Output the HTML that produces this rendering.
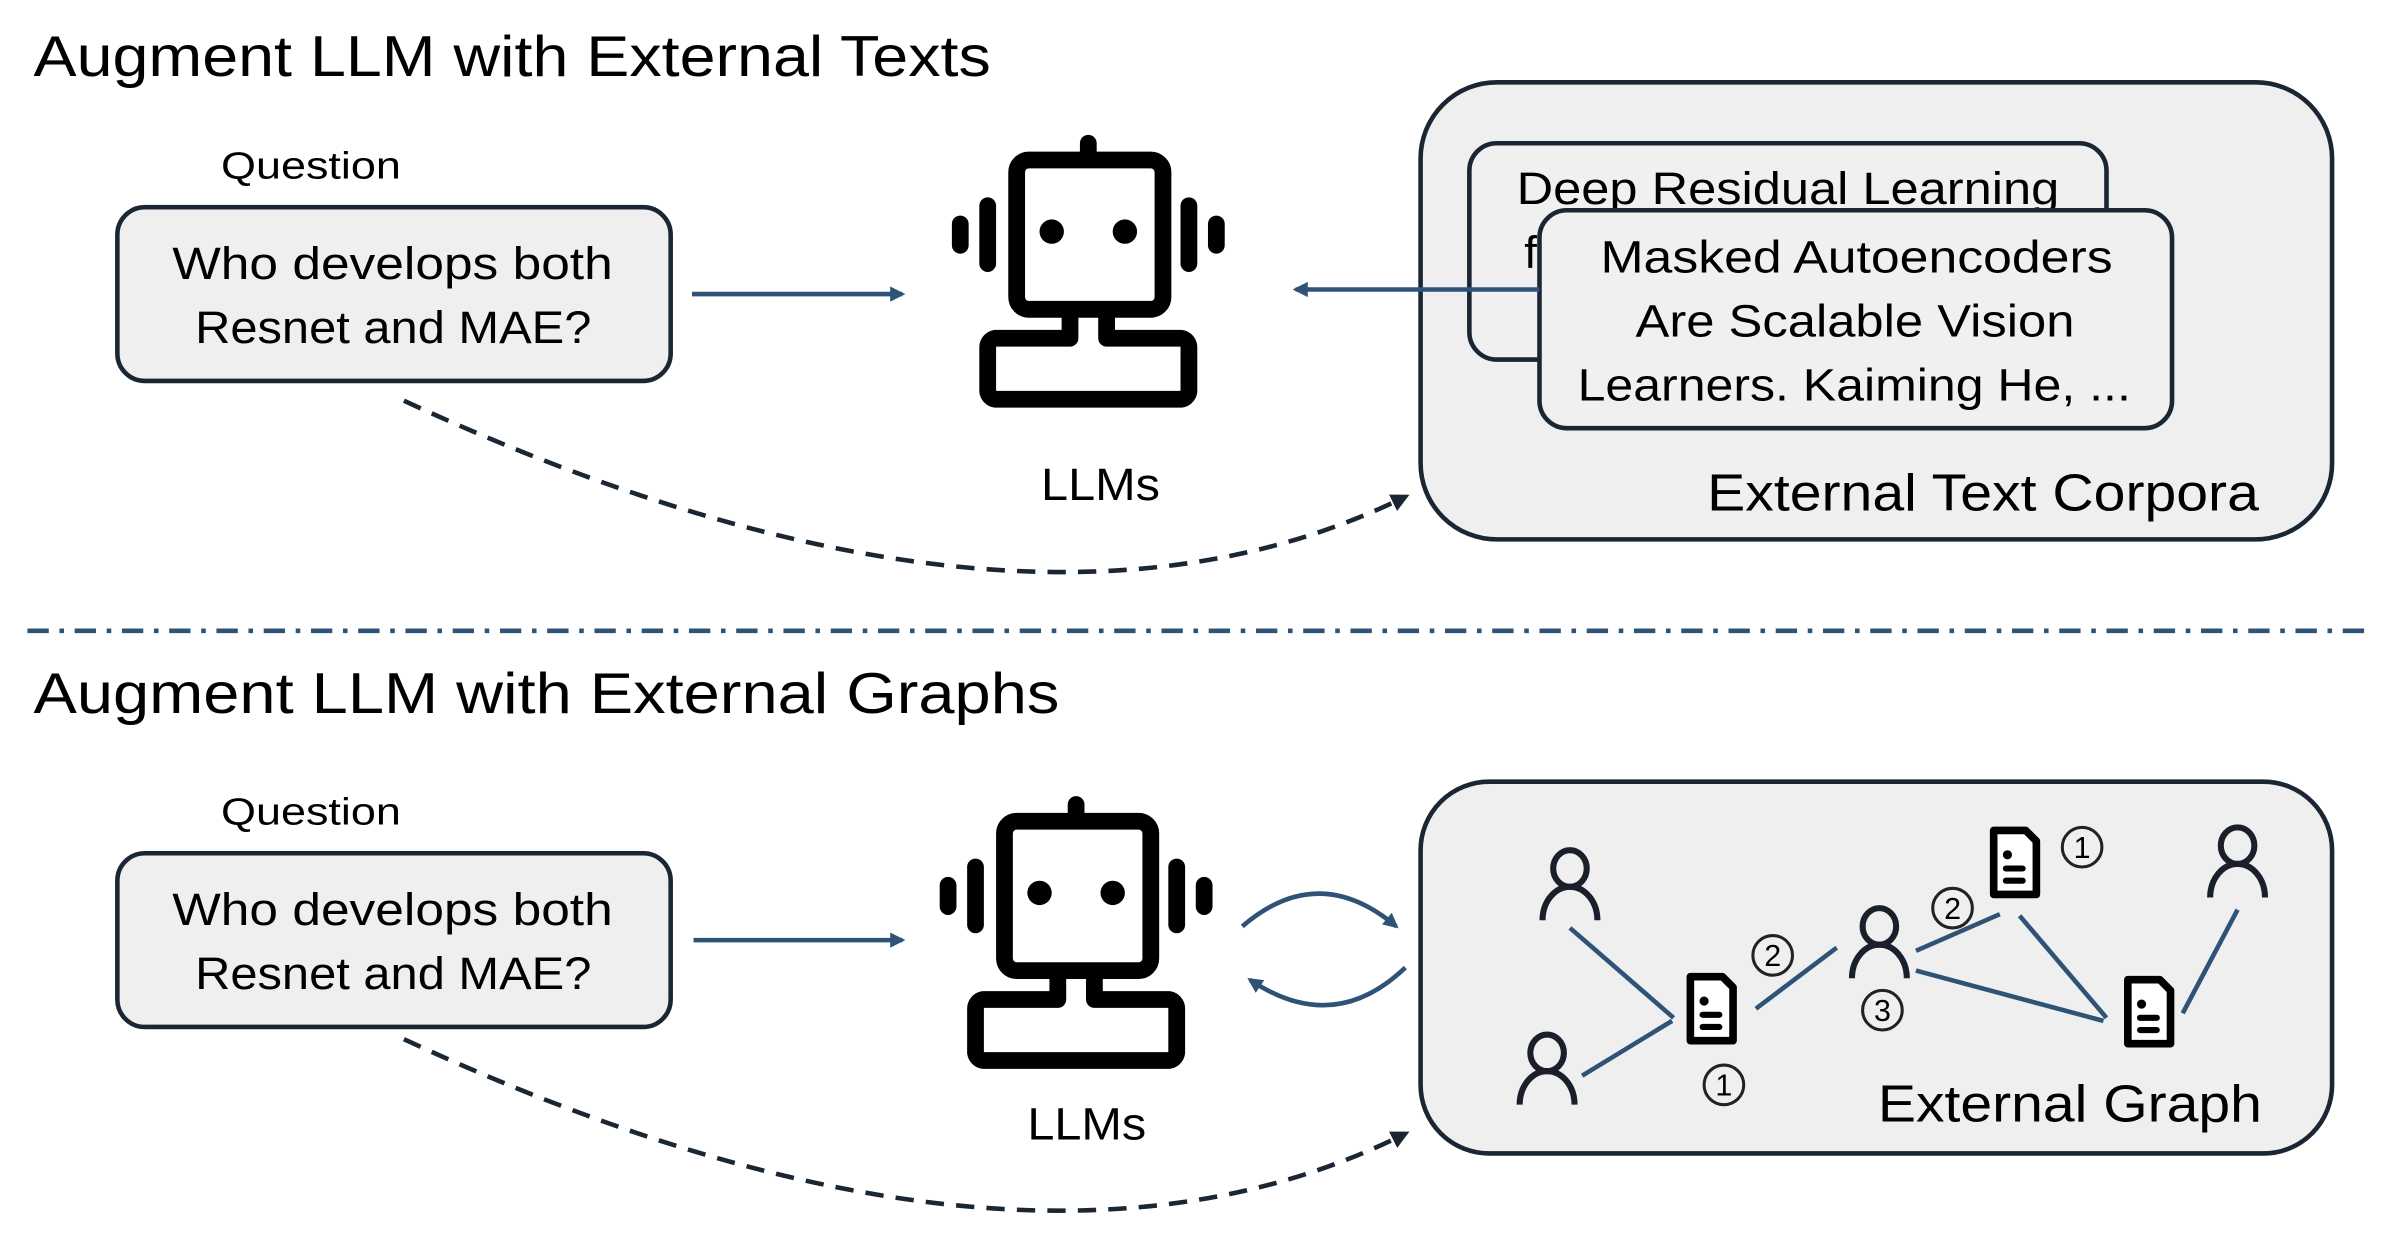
<!DOCTYPE html>
<html><head><meta charset="utf-8"><style>
html,body{margin:0;padding:0;background:#fff}
svg{display:block}
text{font-family:"Liberation Sans",sans-serif;fill:#000}
</style></head><body>
<svg width="2390" height="1254" viewBox="0 0 1568 823" preserveAspectRatio="none" xmlns="http://www.w3.org/2000/svg">
<defs>
<marker id="ah" markerWidth="10" markerHeight="10" refX="8" refY="5" orient="auto" markerUnits="userSpaceOnUse"><path d="M0,0 L10,5 L0,10 z" fill="#2e5377"/></marker>
<marker id="ahd" markerWidth="12" markerHeight="12" refX="9" refY="6" orient="auto" markerUnits="userSpaceOnUse"><path d="M0,0 L12,6 L0,12 z" fill="#1a2633"/></marker>
<g id="robot" fill="none" stroke="#000" stroke-width="11" stroke-linecap="round" stroke-linejoin="round">
<line x1="714" y1="94" x2="714" y2="104"/>
<rect x="667" y="105" width="96" height="98" rx="8"/>
<path d="M702,205 V222 H653 A6,6 0 0 0 648,228 V257 A6,6 0 0 0 653,262 H775 A6,6 0 0 0 780,257 V228 A6,6 0 0 0 775,222 H726 V205"/>
<line x1="630" y1="147" x2="630" y2="161"/>
<line x1="648" y1="135" x2="648" y2="173"/>
<line x1="780" y1="135" x2="780" y2="173"/>
<line x1="798" y1="147" x2="798" y2="161"/>
<circle cx="690" cy="152" r="8" fill="#000" stroke="none"/>
<circle cx="738" cy="152" r="8" fill="#000" stroke="none"/>
</g>
<g id="person" fill="none" stroke="#1a1f2b" stroke-width="4">
<ellipse cx="0" cy="-12" rx="11" ry="12"/>
<path d="M-18,22 A18,22 0 0 1 18,22"/>
</g>
<g id="doc">
<path d="M-14,-21 H7 L14,-14 V21 H-14 Z" fill="#fff" stroke="#000" stroke-width="5" stroke-linejoin="round"/>
<circle cx="-5" cy="-5" r="3" fill="#000"/>
<rect x="-8" y="2" width="15" height="4" rx="2" fill="#000"/>
<rect x="-8" y="10" width="15" height="4" rx="2" fill="#000"/>
</g>
</defs>

<text x="22" y="50" font-size="38" textLength="628" lengthAdjust="spacingAndGlyphs">Augment LLM with External Texts</text>
<text x="145" y="117" font-size="25" textLength="118" lengthAdjust="spacingAndGlyphs">Question</text>
<rect x="77" y="136" width="363" height="114" rx="18" fill="#efefef" stroke="#1a2633" stroke-width="3"/>
<text x="113" y="183" font-size="30" textLength="289" lengthAdjust="spacingAndGlyphs">Who develops both</text>
<text x="128" y="225" font-size="30" textLength="260" lengthAdjust="spacingAndGlyphs">Resnet and MAE?</text>
<line x1="454" y1="193" x2="592" y2="193" stroke="#2e5377" stroke-width="3" marker-end="url(#ah)"/>
<use href="#robot"/>
<text x="683" y="328" font-size="30" textLength="78" lengthAdjust="spacingAndGlyphs">LLMs</text>
<rect x="932" y="54" width="598" height="300" rx="50" fill="#efefef" stroke="#1a2633" stroke-width="3"/>
<rect x="964" y="94" width="418" height="142" rx="18" fill="#f0f0f0" stroke="#1a2633" stroke-width="3"/>
<text x="995" y="134" font-size="30" textLength="356" lengthAdjust="spacingAndGlyphs">Deep Residual Learning</text>
<text x="1000" y="176" font-size="30">f</text>
<rect x="1010" y="138" width="415" height="143" rx="18" fill="#f0f0f0" stroke="#1a2633" stroke-width="3"/>
<text x="1050" y="179" font-size="30" textLength="336" lengthAdjust="spacingAndGlyphs">Masked Autoencoders</text>
<text x="1073" y="221" font-size="30" textLength="288" lengthAdjust="spacingAndGlyphs">Are Scalable Vision</text>
<text x="1035" y="263" font-size="30" textLength="363" lengthAdjust="spacingAndGlyphs">Learners. Kaiming He, ...</text>
<text x="1120" y="335" font-size="34" textLength="362" lengthAdjust="spacingAndGlyphs">External Text Corpora</text>
<line x1="1010" y1="190" x2="850" y2="190" stroke="#2e5377" stroke-width="3" marker-end="url(#ah)"/>
<path d="M265,263 Q670,450 922,326" fill="none" stroke="#1a2633" stroke-width="3" stroke-dasharray="12,8" marker-end="url(#ahd)"/>

<line x1="18" y1="414" x2="1555" y2="414" stroke="#2e5377" stroke-width="3" stroke-dasharray="14,7,3,7"/>

<text x="22" y="468" font-size="38" textLength="673" lengthAdjust="spacingAndGlyphs">Augment LLM with External Graphs</text>
<text x="145" y="541" font-size="25" textLength="118" lengthAdjust="spacingAndGlyphs">Question</text>
<rect x="77" y="560" width="363" height="114" rx="18" fill="#efefef" stroke="#1a2633" stroke-width="3"/>
<text x="113" y="607" font-size="30" textLength="289" lengthAdjust="spacingAndGlyphs">Who develops both</text>
<text x="128" y="649" font-size="30" textLength="260" lengthAdjust="spacingAndGlyphs">Resnet and MAE?</text>
<line x1="455" y1="617" x2="592" y2="617" stroke="#2e5377" stroke-width="3" marker-end="url(#ah)"/>
<use href="#robot" transform="translate(-8,434)"/>
<text x="674" y="748" font-size="30" textLength="78" lengthAdjust="spacingAndGlyphs">LLMs</text>
<path d="M815,608 Q865,565 916,608" fill="none" stroke="#2e5377" stroke-width="3" marker-end="url(#ah)"/>
<path d="M922,635 Q875,680 820,643" fill="none" stroke="#2e5377" stroke-width="3" marker-end="url(#ah)"/>
<path d="M265,682 Q670,870 922,744" fill="none" stroke="#1a2633" stroke-width="3" stroke-dasharray="12,8" marker-end="url(#ahd)"/>

<rect x="932" y="513" width="598" height="244" rx="45" fill="#efefef" stroke="#1a2633" stroke-width="3"/>
<g stroke="#2e5377" stroke-width="3">
<line x1="1030" y1="609" x2="1098" y2="668"/>
<line x1="1038" y1="706" x2="1097" y2="670"/>
<line x1="1152" y1="662" x2="1205" y2="622"/>
<line x1="1257" y1="624" x2="1312" y2="600"/>
<line x1="1257" y1="637" x2="1380" y2="670"/>
<line x1="1325" y1="601" x2="1382" y2="668"/>
<line x1="1432" y1="665" x2="1468" y2="597"/>
</g>
<use href="#person" transform="translate(1030,582)"/>
<use href="#person" transform="translate(1015,703)"/>
<use href="#person" transform="translate(1233,620)"/>
<use href="#person" transform="translate(1468,567)"/>
<use href="#doc" transform="translate(1123,662)"/>
<use href="#doc" transform="translate(1322,566)"/>
<use href="#doc" transform="translate(1410,664)"/>
<g fill="none" stroke="#222" stroke-width="2">
<circle cx="1163" cy="627" r="13"/><circle cx="1235" cy="663" r="13"/><circle cx="1131" cy="712" r="13"/><circle cx="1281" cy="596" r="13"/><circle cx="1366" cy="556" r="13"/>
</g>
<g font-size="20" text-anchor="middle">
<text x="1163" y="634">2</text><text x="1235" y="670">3</text><text x="1131" y="719">1</text><text x="1281" y="603">2</text><text x="1366" y="563">1</text>
</g>
<text x="1232" y="736" font-size="34" textLength="252" lengthAdjust="spacingAndGlyphs">External Graph</text>
</svg>
</body></html>
